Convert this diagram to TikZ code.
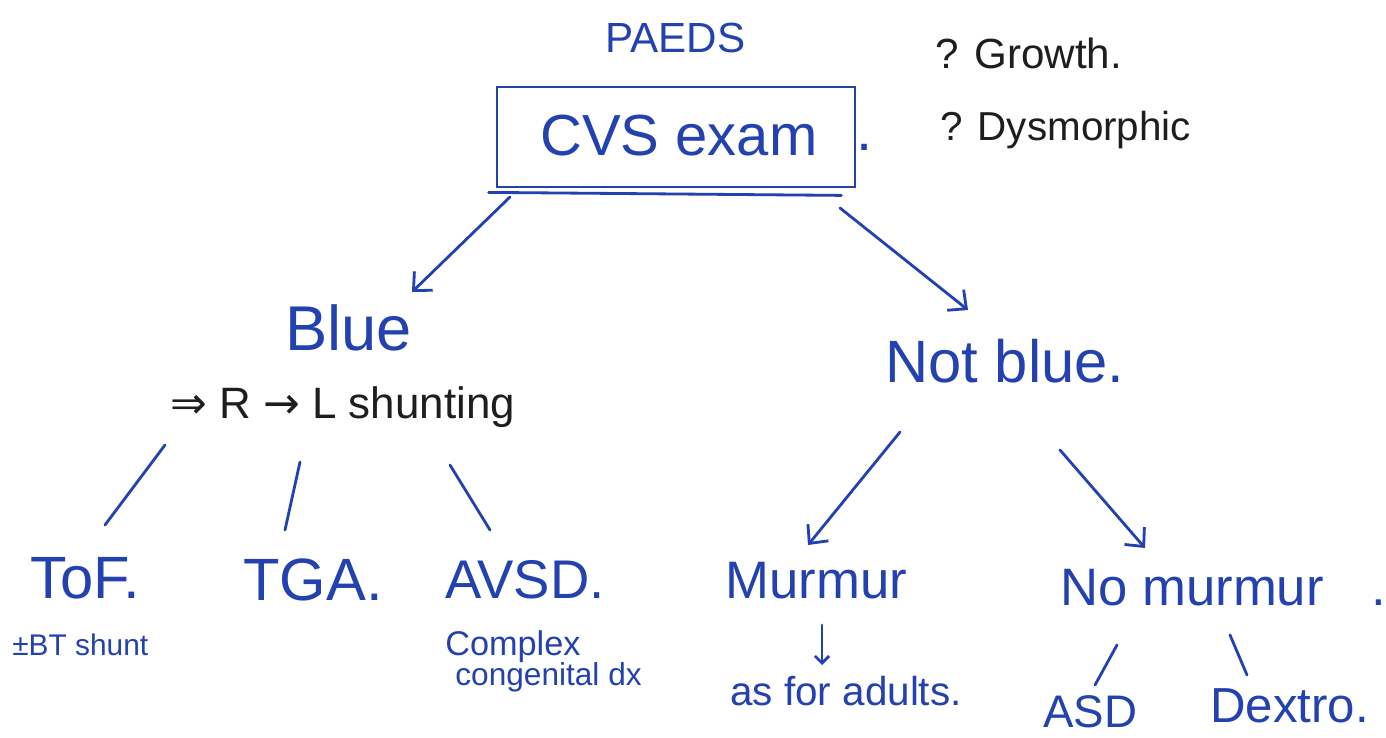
\documentclass[tikz,border=0pt]{standalone}
\usepackage{fontspec}
\setmainfont{Liberation Sans}
\newfontfamily\inkarrows{DejaVu Sans}
\usetikzlibrary{arrows.meta,calc}
\definecolor{ink}{RGB}{35,65,175}
\definecolor{pencil}{RGB}{30,30,30}
\newcommand{\inksize}[1]{\fontsize{#1}{1.2\dimexpr#1pt\relax}\selectfont}
\tikzset{
  lbl/.style={anchor=base west, inner sep=0pt, text=ink},
  note/.style={anchor=base west, inner sep=0pt, text=pencil},
  stroke/.style={draw=ink, line width=1.6pt, line cap=round, line join=round},
  arr/.style={stroke, -{Straight Barb[length=8pt,width=15pt,line width=1.6pt]}},
  smallarr/.style={stroke, -{Straight Barb[length=4pt,width=8pt,line width=1.6pt]}},
}
\begin{document}
\begin{tikzpicture}[x=0.02cm,y=-0.02cm]
\useasboundingbox[fill=white] (0,0) rectangle (1386,737);

% title and examination box
\node[lbl, font=\inksize{24}] (paeds) at (605,52) {PAEDS};
\node[draw=ink, line width=1.6pt, minimum width=7.16cm, minimum height=2cm, inner sep=0pt]
  (box) at (676,137) {};
\node[lbl, font=\inksize{33}] (cvs) at (540,155) {CVS exam};
\node[lbl, font=\inksize{33}] (boxdot) at (856,150) {.};
\draw[draw=ink, line width=1.6pt, line cap=round]
  ($(box.south west)+(-7,4)$) -- ($(box.south east)+(-15,7)$);

% side notes
\node[note, font=\inksize{24}] (growth) at (935,68) {? Growth.};
\node[note, font=\inksize{23}] (dysm) at (940,140) {? Dysmorphic};

% first split
\node[lbl, font=\inksize{36}] (blue) at (285,350) {Blue};
\node[note, font=\inksize{25}] (shunt) at (170,418) {{\inkarrows ⇒} R {\inkarrows →} L shunting};
\node[lbl, font=\inksize{34}] (notblue) at (885,382) {Not blue.};

\draw[arr] ($(box.center)+(-166,60)$) -- ($(blue.base west)+(127,-58)$);
\draw[arr] ($(box.center)+(164,71)$) -- ($(notblue.base west)+(83,-72)$);

% cyanotic lesions
\node[lbl, font=\inksize{34}] (tof) at (30,598) {ToF.};
\node[lbl, font=\inksize{34}] (tga) at (243,600) {TGA.};
\node[lbl, font=\inksize{31}] (avsd) at (445,598) {AVSD.};
\node[lbl, font=\inksize{17}] (bt) at (12,655) {±BT shunt};
\node[lbl, font=\inksize{19.5}] (complex) at (445,655) {Complex};
\node[lbl, font=\inksize{18}] (congen) at (455,685) {congenital dx};

\draw[stroke] ($(shunt.base west)+(-5,27)$) -- ($(tof.base west)+(75,-73)$);
\draw[stroke] ($(shunt.base west)+(130,44)$) -- ($(tga.base west)+(42,-70)$);
\draw[stroke] ($(shunt.base west)+(280,47)$) -- ($(avsd.base west)+(45,-68)$);

% acyanotic branch
\node[lbl, font=\inksize{30}] (murmur) at (725,598) {Murmur};
\node[lbl, font=\inksize{30}] (nomurmur) at (1060,605) {No murmur\hspace{0.9em}.};
\node[lbl, font=\inksize{23}] (adults) at (730,705) {as for adults.};
\node[lbl, font=\inksize{26}] (asd) at (1043,727) {ASD};
\node[lbl, font=\inksize{28}] (dextro) at (1210,722) {Dextro.};

\draw[arr] ($(notblue.base west)+(15,50)$) -- ($(murmur.base west)+(83,-53)$);
\draw[arr] ($(notblue.base west)+(175,68)$) -- ($(nomurmur.base west)+(85,-57)$);
\draw[smallarr] ($(murmur.base west)+(97,27)$) -- ($(adults.base west)+(92,-40)$);
\draw[stroke] ($(nomurmur.base west)+(57,40)$) -- ($(asd.base west)+(52,-42)$);
\draw[stroke] ($(nomurmur.base west)+(170,30)$) -- ($(dextro.base west)+(37,-47)$);
\end{tikzpicture}
\end{document}
